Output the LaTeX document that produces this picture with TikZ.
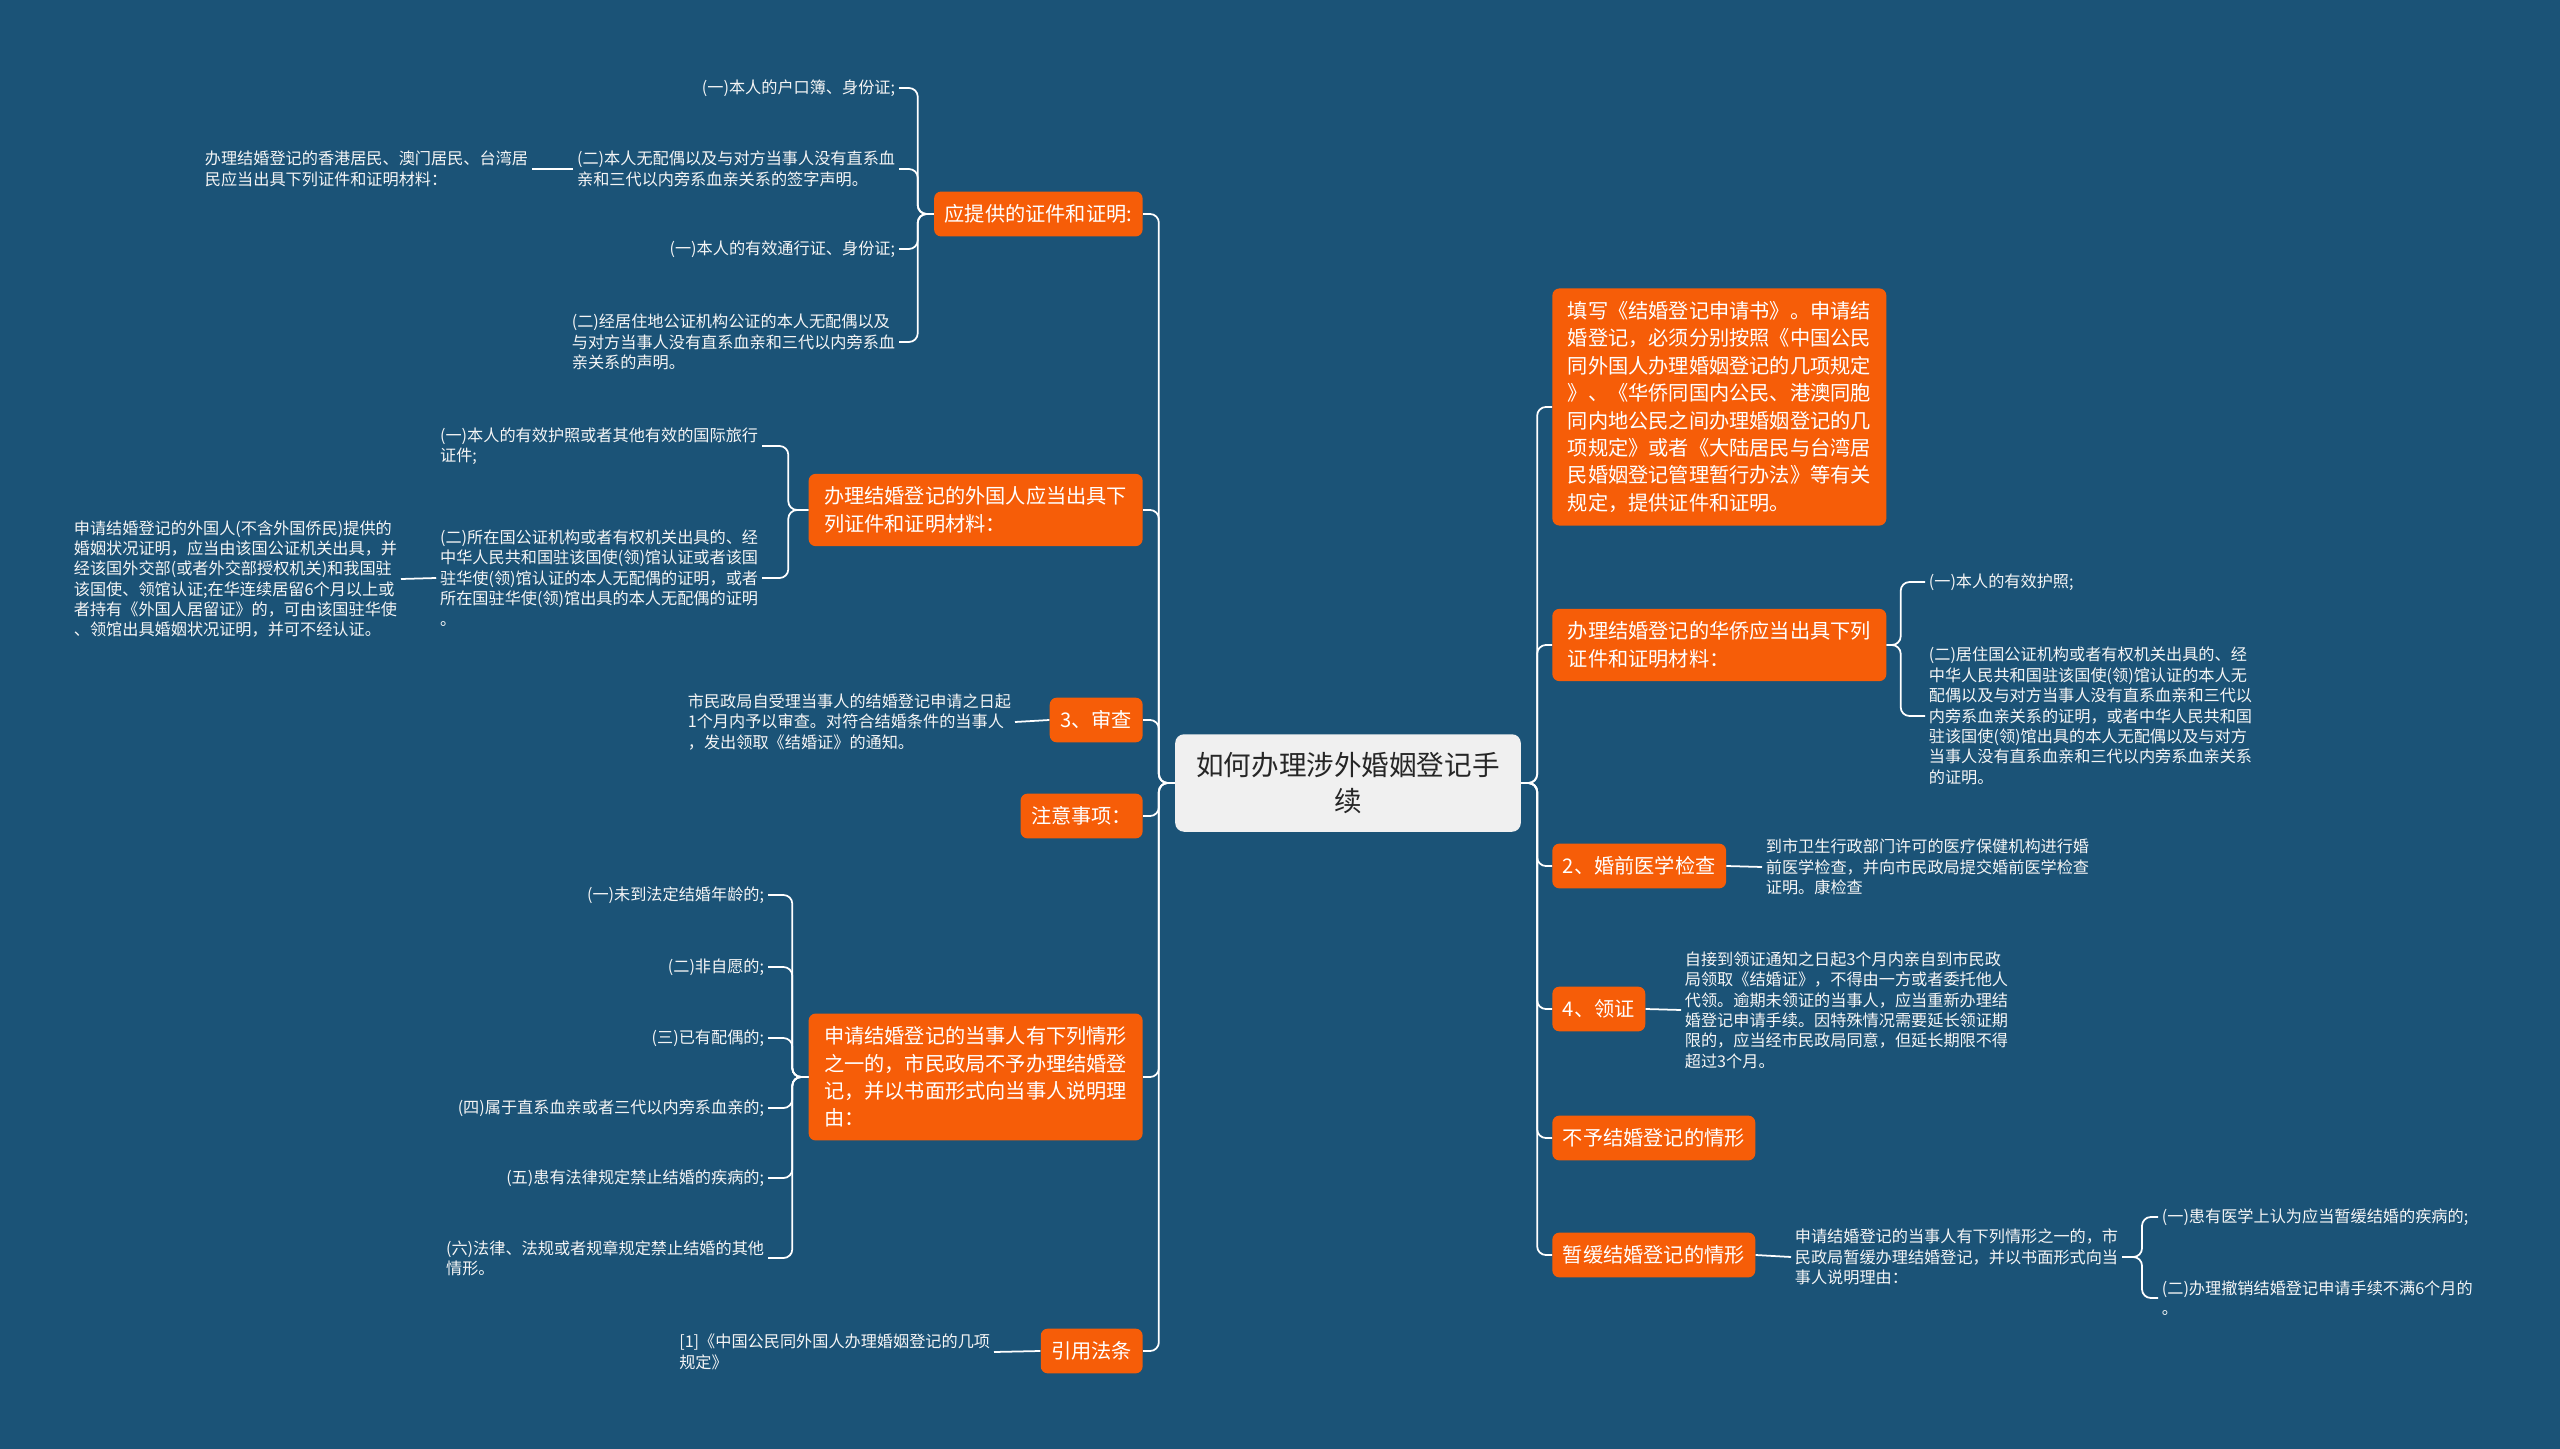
\documentclass[tikz,border=0pt]{standalone}
\usepackage{fontspec}
\setmainfont{Noto Sans CJK SC}
\definecolor{deepblue}{HTML}{1B5377}
\definecolor{flame}{HTML}{F65D08}
\definecolor{paper}{HTML}{F0F0F0}
\definecolor{ink}{HTML}{262626}
\definecolor{snow}{HTML}{F5F5F5}
\begin{document}
\begin{tikzpicture}[x=0.02cm,y=-0.02cm,
hub/.style={fill=paper,text=ink,rounded corners=5pt,align=center,inner xsep=12pt,inner ysep=10pt,font=\fontsize{15.7}{21}\selectfont},
branch/.style={fill=flame,text=white,rounded corners=4pt,align=left,inner xsep=6pt,inner ysep=7.4pt,font=\fontsize{11.5}{15.6}\selectfont},
wide/.style={branch,inner xsep=8.8pt},
leaf/.style={text=snow,align=left,inner sep=2pt,font=\fontsize{9.2}{11.6}\selectfont},
link/.style={draw=white,line width=1pt,rounded corners=5pt}]
\fill[deepblue] (0,0) rectangle (2560,1449);
\node[hub] (hub) at (1348,783) {如何办理涉外婚姻登记手\\续};
\node[branch,anchor=east] (proof) at (1143,214) {应提供的证件和证明:};
\node[wide,anchor=east] (foreign) at (1143,510) {办理结婚登记的外国人应当出具下\\列证件和证明材料：};
\node[branch,anchor=east] (review) at (1143,720) {3、审查};
\node[branch,anchor=east] (notes) at (1143,816) {注意事项：};
\node[wide,anchor=east] (refuse) at (1143,1077) {申请结婚登记的当事人有下列情形\\之一的，市民政局不予办理结婚登\\记，并以书面形式向当事人说明理\\由：};
\node[branch,anchor=east] (cite) at (1143,1351) {引用法条};
\node[wide,anchor=west] (apply) at (1552,407) {填写《结婚登记申请书》。申请结\\婚登记，必须分别按照《中国公民\\同外国人办理婚姻登记的几项规定\\》、《华侨同国内公民、港澳同胞\\同内地公民之间办理婚姻登记的几\\项规定》或者《大陆居民与台湾居\\民婚姻登记管理暂行办法》等有关\\规定，提供证件和证明。};
\node[wide,anchor=west] (overseas) at (1552,645) {办理结婚登记的华侨应当出具下列\\证件和证明材料：};
\node[branch,anchor=west] (medical) at (1552,866) {2、婚前医学检查};
\node[branch,anchor=west] (collect) at (1552,1009) {4、领证};
\node[branch,anchor=west] (deny) at (1552,1138) {不予结婚登记的情形};
\node[branch,anchor=west] (defer) at (1552,1255) {暂缓结婚登记的情形};
\node[leaf,anchor=east] (p1) at (899,88) {(一)本人的户口簿、身份证;};
\node[leaf,anchor=east] (p2) at (899,169) {(二)本人无配偶以及与对方当事人没有直系血\\亲和三代以内旁系血亲关系的签字声明。};
\node[leaf,anchor=east] (p3) at (899,249) {(一)本人的有效通行证、身份证;};
\node[leaf,anchor=east] (p4) at (899,342) {(二)经居住地公证机构公证的本人无配偶以及\\与对方当事人没有直系血亲和三代以内旁系血\\亲关系的声明。};
\node[leaf,anchor=east] (hk) at (532,169) {办理结婚登记的香港居民、澳门居民、台湾居\\民应当出具下列证件和证明材料：};
\node[leaf,anchor=east] (f1) at (762,446) {(一)本人的有效护照或者其他有效的国际旅行\\证件;};
\node[leaf,anchor=east] (f2) at (762,578) {(二)所在国公证机构或者有权机关出具的、经\\中华人民共和国驻该国使(领)馆认证或者该国\\驻华使(领)馆认证的本人无配偶的证明，或者\\所在国驻华使(领)馆出具的本人无配偶的证明\\。};
\node[leaf,anchor=east] (fx) at (401,579) {申请结婚登记的外国人(不含外国侨民)提供的\\婚姻状况证明，应当由该国公证机关出具，并\\经该国外交部(或者外交部授权机关)和我国驻\\该国使、领馆认证;在华连续居留6个月以上或\\者持有《外国人居留证》的，可由该国驻华使\\、领馆出具婚姻状况证明，并可不经认证。};
\node[leaf,anchor=east] (rv) at (1015,722) {市民政局自受理当事人的结婚登记申请之日起\\1个月内予以审查。对符合结婚条件的当事人\\，发出领取《结婚证》的通知。};
\node[leaf,anchor=east] (r1) at (768,895) {(一)未到法定结婚年龄的;};
\node[leaf,anchor=east] (r2) at (768,967) {(二)非自愿的;};
\node[leaf,anchor=east] (r3) at (768,1038) {(三)已有配偶的;};
\node[leaf,anchor=east] (r4) at (768,1108) {(四)属于直系血亲或者三代以内旁系血亲的;};
\node[leaf,anchor=east] (r5) at (768,1178) {(五)患有法律规定禁止结婚的疾病的;};
\node[leaf,anchor=east] (r6) at (768,1258) {(六)法律、法规或者规章规定禁止结婚的其他\\情形。};
\node[leaf,anchor=east] (ct) at (994,1352) {[1]《中国公民同外国人办理婚姻登记的几项\\规定》};
\node[leaf,anchor=west] (o1) at (1925,582) {(一)本人的有效护照;};
\node[leaf,anchor=west] (o2) at (1925,716) {(二)居住国公证机构或者有权机关出具的、经\\中华人民共和国驻该国使(领)馆认证的本人无\\配偶以及与对方当事人没有直系血亲和三代以\\内旁系血亲关系的证明，或者中华人民共和国\\驻该国使(领)馆出具的本人无配偶以及与对方\\当事人没有直系血亲和三代以内旁系血亲关系\\的证明。};
\node[leaf,anchor=west] (m1) at (1762,867) {到市卫生行政部门许可的医疗保健机构进行婚\\前医学检查，并向市民政局提交婚前医学检查\\证明。康检查};
\node[leaf,anchor=west] (c1) at (1681,1010) {自接到领证通知之日起3个月内亲自到市民政\\局领取《结婚证》，不得由一方或者委托他人\\代领。逾期未领证的当事人，应当重新办理结\\婚登记申请手续。因特殊情况需要延长领证期\\限的，应当经市民政局同意，但延长期限不得\\超过3个月。};
\node[leaf,anchor=west] (d1) at (1791,1257) {申请结婚登记的当事人有下列情形之一的，市\\民政局暂缓办理结婚登记，并以书面形式向当\\事人说明理由：};
\node[leaf,anchor=west] (d2) at (2158,1217) {(一)患有医学上认为应当暂缓结婚的疾病的;};
\node[leaf,anchor=west] (d3) at (2158,1298) {(二)办理撤销结婚登记申请手续不满6个月的\\。};
\draw[link] (hub.west) -- ++(-16,0) |- (proof.east);
\draw[link] (hub.west) -- ++(-16,0) |- (foreign.east);
\draw[link] (hub.west) -- ++(-16,0) |- (review.east);
\draw[link] (hub.west) -- ++(-16,0) |- (notes.east);
\draw[link] (hub.west) -- ++(-16,0) |- (refuse.east);
\draw[link] (hub.west) -- ++(-16,0) |- (cite.east);
\draw[link] (hub.east) -- ++(16,0) |- (apply.west);
\draw[link] (hub.east) -- ++(16,0) |- (overseas.west);
\draw[link] (hub.east) -- ++(16,0) |- (medical.west);
\draw[link] (hub.east) -- ++(16,0) |- (collect.west);
\draw[link] (hub.east) -- ++(16,0) |- (deny.west);
\draw[link] (hub.east) -- ++(16,0) |- (defer.west);
\draw[link] (proof.west) -- ++(-16,0) |- (p1.east);
\draw[link] (proof.west) -- ++(-16,0) |- (p2.east);
\draw[link] (proof.west) -- ++(-16,0) |- (p3.east);
\draw[link] (proof.west) -- ++(-16,0) |- (p4.east);
\draw[link] (p2.west) -- (hk.east);
\draw[link] (foreign.west) -- ++(-20,0) |- (f1.east);
\draw[link] (foreign.west) -- ++(-20,0) |- (f2.east);
\draw[link] (f2.west) -- (fx.east);
\draw[link] (review.west) -- (rv.east);
\draw[link] (refuse.west) -- ++(-16,0) |- (r1.east);
\draw[link] (refuse.west) -- ++(-16,0) |- (r2.east);
\draw[link] (refuse.west) -- ++(-16,0) |- (r3.east);
\draw[link] (refuse.west) -- ++(-16,0) |- (r4.east);
\draw[link] (refuse.west) -- ++(-16,0) |- (r5.east);
\draw[link] (refuse.west) -- ++(-16,0) |- (r6.east);
\draw[link] (cite.west) -- (ct.east);
\draw[link] (overseas.east) -- ++(14,0) |- (o1.west);
\draw[link] (overseas.east) -- ++(14,0) |- (o2.west);
\draw[link] (medical.east) -- (m1.west);
\draw[link] (collect.east) -- (c1.west);
\draw[link] (defer.east) -- (d1.west);
\draw[link] (d1.east) -- ++(20,0) |- (d2.west);
\draw[link] (d1.east) -- ++(20,0) |- (d3.west);
\end{tikzpicture}
\end{document}
